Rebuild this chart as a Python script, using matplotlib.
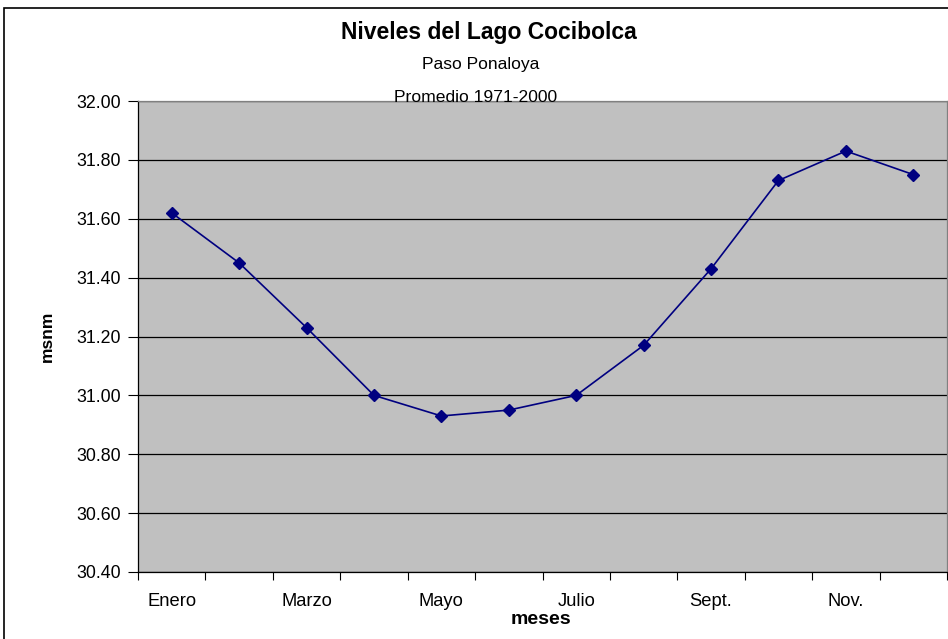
import matplotlib.pyplot as plt
import numpy as np
from matplotlib.patches import Rectangle
from matplotlib.ticker import FixedLocator, NullFormatter

plt.rcParams['font.family'] = ['Liberation Sans', 'DejaVu Sans']

# monthly mean levels (msnm)
months = ['Enero', 'Feb.', 'Marzo', 'Abril', 'Mayo', 'Junio',
          'Julio', 'Agosto', 'Sept.', 'Oct.', 'Nov.', 'Dic.']
levels = [31.62, 31.45, 31.23, 31.00, 30.93, 30.95,
          31.00, 31.17, 31.43, 31.73, 31.83, 31.75]
yticks = [30.40, 30.60, 30.80, 31.00, 31.20, 31.40, 31.60, 31.80, 32.00]

fig = plt.figure(figsize=(9.48, 6.39), dpi=100)
ax = fig.add_axes([138/948, 1 - 572/639, 809/948, 471/639])
ax.set_facecolor('#C0C0C0')

x = np.arange(len(months))
ax.plot(x, levels, color='#000080', lw=1.2, marker='D', markersize=6.5,
        markerfacecolor='#000080', markeredgecolor='#000080', zorder=3)

ax.set_xlim(-0.5, len(months) - 0.5)
ax.set_ylim(yticks[0], yticks[-1])
ax.set_yticks(yticks)
ax.set_yticklabels(['%.2f' % v for v in yticks], fontsize=12.8)
ax.yaxis.grid(True, color='black', lw=0.9)
ax.set_axisbelow(True)

# ticks at category boundaries, labels on every other month
ax.xaxis.set_major_locator(FixedLocator(np.arange(-0.5, len(months), 1.0)))
ax.xaxis.set_major_formatter(NullFormatter())
for i in range(0, len(months), 2):
    ax.text(i, -29/471, months[i], transform=ax.get_xaxis_transform(),
            ha='center', va='center', fontsize=13.2)
ax.tick_params(axis='both', direction='out', length=6, color='black', width=0.8)
ax.tick_params(axis='y', length=7, pad=5)

for side in ['left', 'bottom']:
    ax.spines[side].set_color('black')
    ax.spines[side].set_linewidth(0.9)
for side in ['top', 'right']:
    ax.spines[side].set_color('#808080')
    ax.spines[side].set_linewidth(0.9)

fig.text(47/948, 1 - 336/639, 'msnm', ha='center', va='center', rotation=90,
         fontsize=12.5, fontweight='bold')
fig.text(541/948, 1 - 619/639, 'meses', ha='center', va='center',
         fontsize=14, fontweight='bold')

fig.text(489/948, 1 - 33/639, 'Niveles del Lago Cocibolca', ha='center', va='center',
         fontsize=16.5, fontweight='bold')
fig.text(481/948, 1 - 65/639, 'Paso Ponaloya', ha='center', va='center', fontsize=12.6)
fig.text(476/948, 1 - 97/639, 'Promedio 1971-2000', ha='center', va='center', fontsize=12.6)

# chart-area border (runs off the right and bottom edges)
fig.patches.append(Rectangle((4/948, -0.1), 1.2, 1 - 8/639 + 0.1, transform=fig.transFigure,
                             fill=False, edgecolor='black', lw=1.2))

fig.savefig('out.png', dpi=100)
